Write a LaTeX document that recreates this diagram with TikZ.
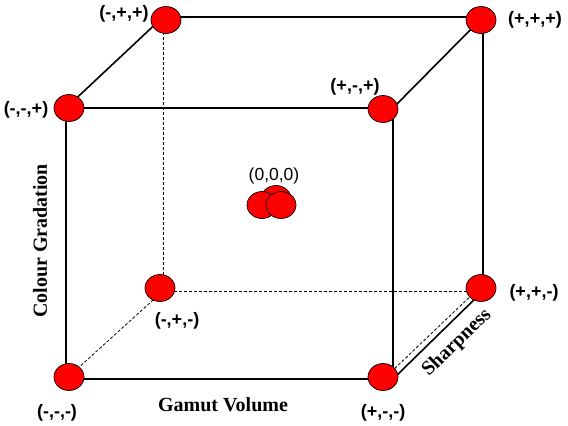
\documentclass[tikz,border=0pt]{standalone}
\usepackage{fontspec}
\setmainfont{Liberation Serif}
\newfontfamily\labfont{Liberation Sans}
\usetikzlibrary{shapes.geometric}
\tikzset{ball/.style={ellipse,draw,fill=red,line width=0.7pt,minimum width=30pt,minimum height=27pt,inner sep=0pt},
edge/.style={line width=1.6pt},
hid/.style={line width=0.8pt,dash pattern=on 3pt off 2pt},
lab/.style={font=\labfont\bfseries\fontsize{18}{18}\selectfont,inner sep=0pt},
axis/.style={font=\bfseries\fontsize{20}{20}\selectfont,inner sep=0pt}}
\begin{document}
\begin{tikzpicture}[x=1pt,y=-1pt]
\useasboundingbox(0,0)rectangle(568,426);
\coordinate(flt)at(66,108);\coordinate(frt)at(393,108);
\coordinate(flb)at(66,379);\coordinate(frb)at(393,379);
\coordinate(blt)at(163,17);\coordinate(brt)at(483,17);
\coordinate(blb)at(163,291);\coordinate(brb)at(483,291);
\coordinate(hs)at(391,372);\coordinate(he)at(478,289);
\draw[hid](blt)--(blb)--(brb);
\draw[hid](flb)--(blb);
\draw[hid](hs)--(he);
\draw[edge](flt)--(frt)--(frb)--(flb)--cycle;
\draw[edge](flt)--(blt)--(brt)--(brb)--(frb);
\draw[edge](frt)--(brt);
\node[ball](mpp)at(166,20){};
\node[ball](ppp)at(481,20){};
\node[ball](mmp)at(69,108){};
\node[ball](pmp)at(383,109){};
\node[ball](mpm)at(160,288){};
\node[ball](ppm)at(481,288){};
\node[ball](mmm)at(69,377){};
\node[ball](pmm)at(383,377){};
\node[ball](c1)at(276,199){};
\node[ball](c2)at(262,205){};
\node[ball](c3)at(281,205){};
\node[lab](lmpp)at(124,14){(-,+,+)};
\node[lab](lppp)at(535,20){(+,+,+)};
\node[lab](lmmp)at(26,110){(-,-,+)};
\node[lab](lpmp)at(355,87){(+,-,+)};
\node[lab](lmpm)at(177,321){(-,+,-)};
\node[lab](lppm)at(534,293){(+,+,-)};
\node[lab](lmmm)at(57,413){(-,-,-)};
\node[lab](lpmm)at(383,413){(+,-,-)};
\node[font=\labfont\fontsize{17.5}{17.5}\selectfont,inner sep=0pt](lc)at(274,176){(0,0,0)};
\node[axis](gv)at(223,405){Gamut Volume};
\node[axis,rotate=90](cg)at(40,241){Colour Gradation};
\node[axis,rotate=44](sh)at(457,343){Sharpness};
\end{tikzpicture}
\end{document}
